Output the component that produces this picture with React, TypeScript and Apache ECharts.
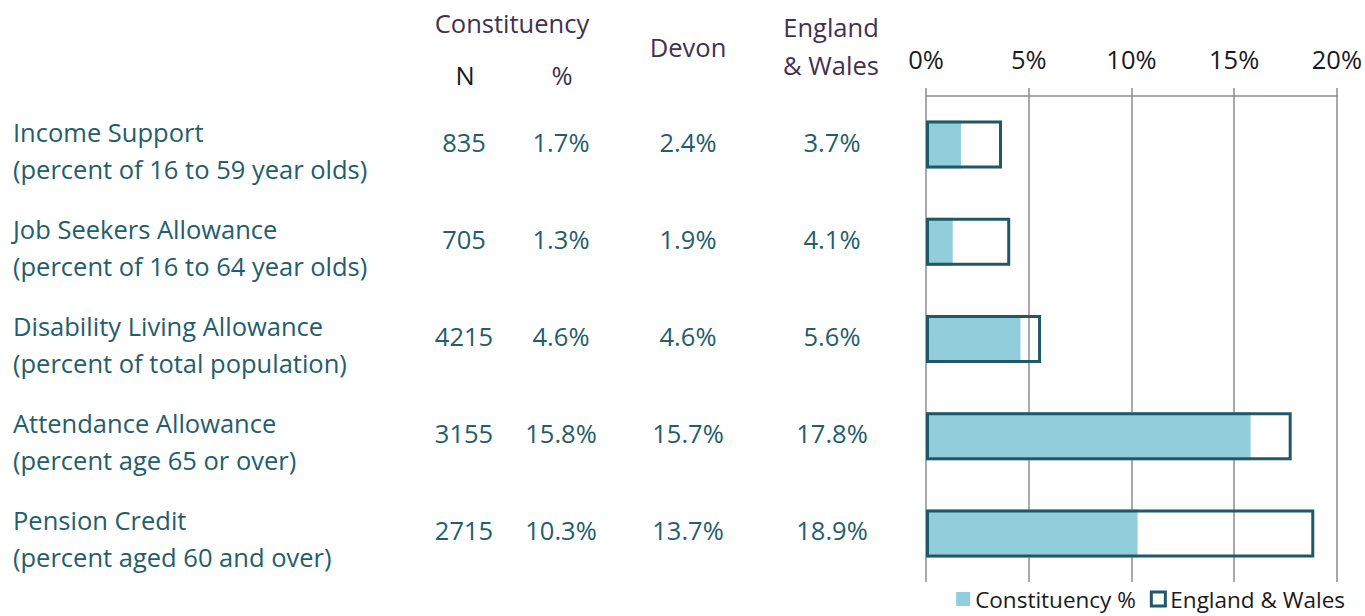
import React, { useEffect, useRef } from "react";
import * as echarts from "echarts";

const categoryNames = [
  "Income Support",
  "Job Seekers Allowance",
  "Disability Living Allowance",
  "Attendance Allowance",
  "Pension Credit",
];
const categoryNotes = [
  "(percent of 16 to 59 year olds)",
  "(percent of 16 to 64 year olds)",
  "(percent of total population)",
  "(percent age 65 or over)",
  "(percent aged 60 and over)",
];
const constituencyN = ["835", "705", "4215", "3155", "2715"];
const constituencyPct = [1.7, 1.3, 4.6, 15.8, 10.3];
const devonPct = [2.4, 1.9, 4.6, 15.7, 13.7];
const englandWalesPct = [3.7, 4.1, 5.6, 17.8, 18.9];
const xTicks = [0, 5, 10, 15, 20];

const FONT = "'Open Sans'";
const FS = 25.5;
const TEAL_TEXT = "#245d6b";
const HEAD = "#3f3151";
const FILL = "#92cddc";
const BORDER = "#215866";
const GRID = "#8c8c8c";
const GRID_LEFT = 926;

const fmtPct = (v: number) => v.toFixed(1) + "%";

function textAxis(data: string[], x: number, align: string, extra: any = {}) {
  return {
    type: "category",
    data,
    inverse: true,
    position: "left",
    gridIndex: 0,
    axisLine: { show: false },
    axisTick: { show: false },
    splitLine: { show: false },
    axisLabel: {
      interval: 0,
      hideOverlap: false,
      align,
      margin: GRID_LEFT - x,
      color: TEAL_TEXT,
      fontFamily: FONT,
      fontSize: FS,
      ...extra,
    },
  };
}

const numStyle = { verticalAlign: "bottom", lineHeight: 6 };

export default function App() {
  const ref = useRef<HTMLDivElement>(null);
  useEffect(() => {
    if (!ref.current) return;
    const chart = echarts.init(ref.current, undefined, { renderer: "svg" });
    const headText = (text: string, x: number, y: number, color = HEAD) => ({
      type: "text",
      x,
      y,
      style: {
        text,
        x: 0,
        y: 0,
        fill: color,
        font: `${FS}px ${FONT}`,
        align: "center",
        verticalAlign: "middle",
      },
    });
    chart.setOption({
      animation: false,
      backgroundColor: "#ffffff",
      grid: { left: GRID_LEFT, right: 28, top: 96, bottom: 34, containLabel: false },
      xAxis: {
        type: "value",
        position: "top",
        min: 0,
        max: xTicks[xTicks.length - 1],
        interval: xTicks[1] - xTicks[0],
        axisLine: { show: true, lineStyle: { color: GRID, width: 1.5 } },
        axisTick: { show: true, length: 8, lineStyle: { color: GRID, width: 1.5 } },
        splitLine: { show: true, lineStyle: { color: GRID, width: 1.5 } },
        axisLabel: {
          formatter: "{value}%",
          color: "#1a1a1a",
          fontFamily: FONT,
          fontSize: FS,
          margin: 24,
        },
      },
      yAxis: [
        textAxis(categoryNames, 13, "left", { verticalAlign: "bottom", lineHeight: 26 }),
        textAxis(categoryNotes, 13, "left", { verticalAlign: "top", lineHeight: 48 }),
        textAxis(constituencyN, 464, "center", numStyle),
        textAxis(constituencyPct.map(fmtPct), 561, "center", numStyle),
        textAxis(devonPct.map(fmtPct), 688, "center", numStyle),
        textAxis(englandWalesPct.map(fmtPct), 832, "center", numStyle),
      ],
      legend: {
        top: 586,
        right: 20,
        itemWidth: 14,
        itemHeight: 14,
        itemGap: 14,
        itemTextGap: 7,
        padding: 0,
        textStyle: { color: "#1a1a1a", fontFamily: FONT, fontSize: 22.5, lineHeight: 26 },
        data: [
          { name: "Constituency %", icon: "rect", itemStyle: { color: FILL } },
          {
            name: "England & Wales",
            icon: "rect",
            itemStyle: { color: "#ffffff", borderColor: BORDER, borderWidth: 3 },
          },
        ],
      },
      series: [
        {
          name: "Constituency %",
          type: "bar",
          data: constituencyPct,
          barWidth: 48,
          itemStyle: { color: FILL },
        },
        {
          name: "England & Wales",
          type: "bar",
          data: englandWalesPct,
          barWidth: 48,
          barGap: "-100%",
          itemStyle: { color: "rgba(255,255,255,0)", borderColor: BORDER, borderWidth: 3 },
        },
      ],
      graphic: [
        headText("Constituency", 512, 23),
        headText("N", 465, 75, "#1a1a1a"),
        headText("%", 562, 75),
        headText("Devon", 688, 47),
        headText("England", 831, 27),
        headText("& Wales", 831, 65),
      ],
    });
    return () => chart.dispose();
  }, []);
  return (
    <div
      ref={ref}
      style={{ position: "fixed", left: 0, top: 0, width: 1365, height: 616 }}
    />
  );
}
